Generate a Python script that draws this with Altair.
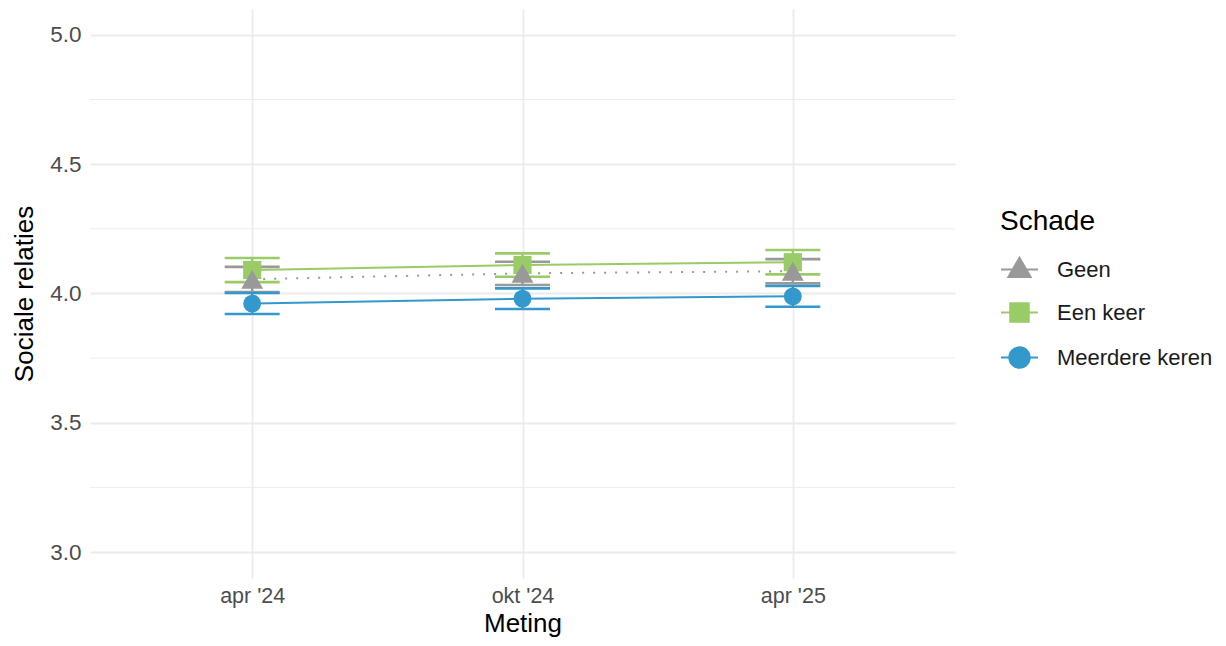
import altair as alt
import pandas as pd

# ---- data ----
metingen = ["apr '24", "okt '24", "apr '25"]
groepen = ["Geen", "Een keer", "Meerdere keren"]
kleuren = ["#999999", "#99CC66", "#3399CC"]

geen_gem = [4.055, 4.078, 4.086]
geen_lo = [4.006, 4.033, 4.039]
geen_hi = [4.103, 4.123, 4.133]

een_gem = [4.091, 4.110, 4.121]
een_lo = [4.044, 4.065, 4.074]
een_hi = [4.137, 4.155, 4.168]

meer_gem = [3.961, 3.980, 3.989]
meer_lo = [3.921, 3.940, 3.949]
meer_hi = [4.002, 4.020, 4.029]

y_ticks = [3.0, 3.5, 4.0, 4.5, 5.0]
y_minor = [3.25, 3.75, 4.25, 4.75]

# ---- table ----
rows = []
for g, gem, lo, hi in [
    ("Geen", geen_gem, geen_lo, geen_hi),
    ("Een keer", een_gem, een_lo, een_hi),
    ("Meerdere keren", meer_gem, meer_lo, meer_hi),
]:
    for i, m in enumerate(metingen):
        rows.append({"Meting": m, "volgorde": i, "Schade": g,
                     "waarde": gem[i], "lo": lo[i], "hi": hi[i]})
df = pd.DataFrame(rows)
minor_df = pd.DataFrame({"waarde": y_minor})

GRID = "#ebebeb"
FONT = "Liberation Sans"

x_enc = alt.X(
    "Meting:O", sort=metingen,
    scale=alt.Scale(type="point", padding=0.6),
    axis=alt.Axis(title="Meting", labelAngle=0, ticks=False, domain=False,
                  grid=True, gridColor=GRID, gridWidth=1.8,
                  labelFontSize=21.5, labelColor="#4d4d4d", labelPadding=7,
                  titleFontSize=26, titleColor="#000000",
                  titleFontWeight="normal", titlePadding=4),
)
y_scale = alt.Scale(domain=[2.9, 5.1], nice=False, zero=False)
y_axis = alt.Axis(values=y_ticks, format=".1f", title="Sociale relaties",
                  ticks=False, domain=False, grid=True, gridColor=GRID,
                  gridWidth=1.8, labelFontSize=22.5, labelColor="#4d4d4d",
                  labelPadding=9, titleFontSize=26, titleColor="#000000",
                  titleFontWeight="normal", titlePadding=12)

base = alt.Chart(df)

minor = alt.Chart(minor_df).mark_rule(color=GRID, strokeWidth=0.9).encode(
    y=alt.Y("waarde:Q", scale=y_scale, axis=y_axis)
)

def yq(field):
    return alt.Y(field, scale=y_scale, axis=y_axis)

def errbars(groep, kleur):
    b = base.transform_filter(alt.datum.Schade == groep)
    rule = b.mark_rule(strokeWidth=2.4, color=kleur).encode(
        x=x_enc, y=yq("lo:Q"), y2="hi:Q")
    lo = b.mark_tick(size=55, thickness=2.6, orient="horizontal",
                     opacity=1, color=kleur).encode(x=x_enc, y=yq("lo:Q"))
    hi = b.mark_tick(size=55, thickness=2.6, orient="horizontal",
                     opacity=1, color=kleur).encode(x=x_enc, y=yq("hi:Q"))
    return [rule, lo, hi]

def lijn(groep, kleur, dash):
    b = base.transform_filter(alt.datum.Schade == groep)
    kw = {"strokeDash": dash} if dash else {}
    return b.mark_line(strokeWidth=2, color=kleur, **kw).encode(
        x=x_enc, y=yq("waarde:Q"), order="volgorde:Q")

def pts(groep, kleur, shape, size):
    b = base.transform_filter(alt.datum.Schade == groep)
    return b.mark_point(filled=True, opacity=1, shape=shape, size=size,
                        color=kleur).encode(x=x_enc, y=yq("waarde:Q"))

layers = [minor]
for g, k in zip(groepen, kleuren):
    layers += errbars(g, k)
layers.append(lijn("Geen", kleuren[0], [2, 9]))
layers.append(lijn("Een keer", kleuren[1], None))
layers.append(lijn("Meerdere keren", kleuren[2], None))
layers.append(pts("Een keer", kleuren[1], "square", 330))
layers.append(pts("Meerdere keren", kleuren[2], "circle", 320))
layers.append(pts("Geen", kleuren[0], "triangle-up", 480))

legend_paths = [
    "M-1,0H1M0,-0.64L0.6,0.4L-0.6,0.4Z",
    "M-1,0H1M-0.5,-0.5H0.5V0.5H-0.5Z",
    "M-1,0H1M0.55,0A0.55,0.55 0 1,1 -0.55,0A0.55,0.55 0 1,1 0.55,0Z",
]
leg = alt.Legend(title="Schade", orient="none", legendX=910, legendY=199,
                 titleFontSize=28, titleFontWeight="normal", titleColor="#000000",
                 titlePadding=14, labelFontSize=22, labelColor="#1a1a1a",
                 labelOffset=18, symbolSize=1369, symbolStrokeWidth=2,
                 rowPadding=12, padding=0)
legend_layer = base.mark_point(
    filled=True, opacity=1, strokeWidth=2, size=0
).encode(
    x=x_enc, y=yq("waarde:Q"),
    color=alt.Color("Schade:N", scale=alt.Scale(domain=groepen, range=kleuren), legend=leg),
    stroke=alt.Stroke("Schade:N", scale=alt.Scale(domain=groepen, range=kleuren), legend=leg),
    shape=alt.Shape("Schade:N", scale=alt.Scale(domain=groepen, range=legend_paths), legend=leg),
)
layers.insert(1, legend_layer)

chart = alt.layer(*layers).properties(
    width=865, height=569, autosize="none",
    padding={"left": 82, "top": 1, "right": 263, "bottom": 60},
).configure(
    font=FONT, background="white"
).configure_view(stroke=None)

chart.save("out.html", embed_options={"renderer": "svg", "actions": False})
